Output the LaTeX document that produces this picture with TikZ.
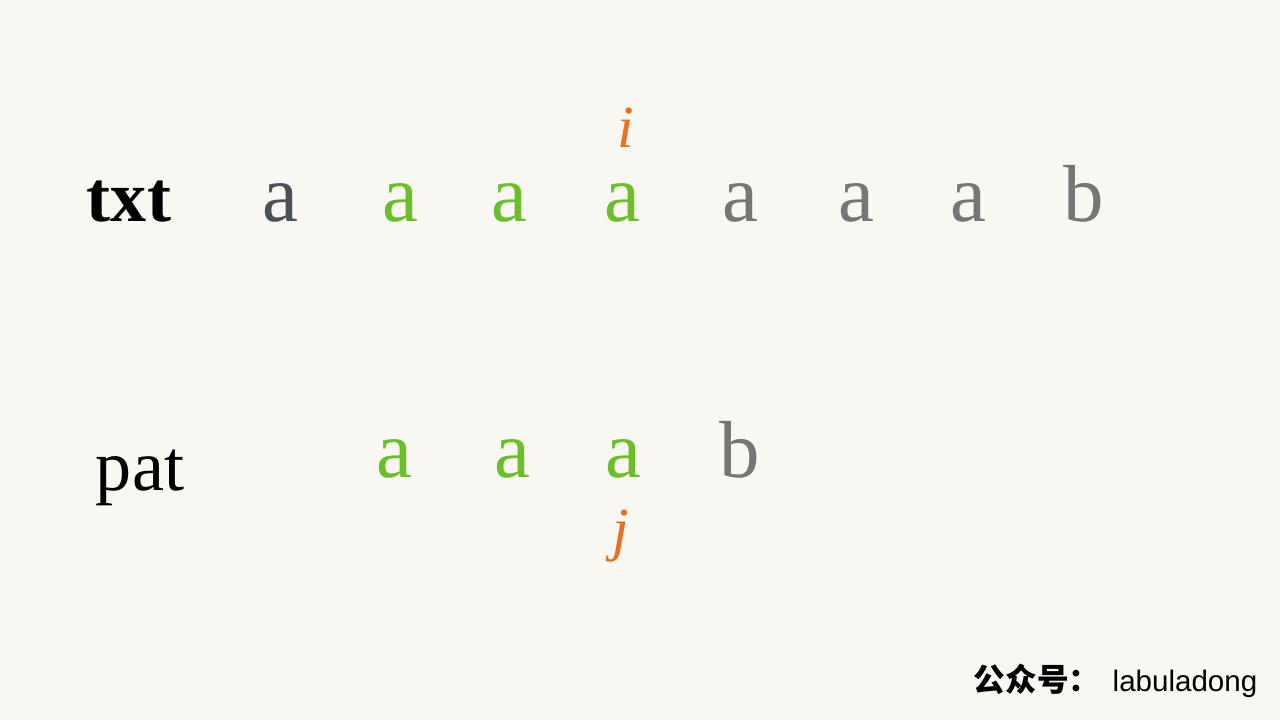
\documentclass[tikz,border=0pt]{standalone}
\usepackage{fontspec}
\setmainfont{Liberation Serif}
\newfontfamily\cjkfont{Noto Sans CJK SC}
\newfontfamily\wmfont{Liberation Sans}
\definecolor{bgc}{HTML}{F8F7F1}
\definecolor{dgray}{HTML}{4C5157}
\definecolor{lgray}{HTML}{767676}
\definecolor{grn}{HTML}{6CBE2A}
\definecolor{org}{HTML}{E8701E}
\tikzset{
  lbl/.style={anchor=base, font=\fontsize{20.5}{24}\selectfont, text=black},
  ch/.style={anchor=base, font=\fontsize{23}{26}\selectfont},
  ptr/.style={anchor=center, inner sep=0pt, text=org, font=\fontsize{17}{20}\selectfont\itshape},
}
\begin{document}
\begin{tikzpicture}[x=0.01cm, y=-0.01cm]
\fill[bgc] (0,0) rectangle (1280,720);
\useasboundingbox (0,0) rectangle (1280,720);
% txt row
\node[lbl, font=\fontsize{20.5}{24}\selectfont\bfseries] (txt) at (129,221) {txt};
\node[ch, text=dgray] (t0) at (280,221) {a};
\node[ch, text=grn] (t1) at (400,221) {a};
\node[ch, text=grn] (t2) at (509,221) {a};
\node[ch, text=grn] (t3) at (622,221) {a};
\node[ch, text=lgray] (t4) at (740,221) {a};
\node[ch, text=lgray] (t5) at (856,221) {a};
\node[ch, text=lgray] (t6) at (968,221) {a};
\node[ch, text=lgray] (t7) at (1084,221) {b};
\node[ptr] (i) at (626,128) {i};
% pat row
\node[lbl] (pat) at (140,490) {pat};
\node[ch, text=grn] (p0) at (394,477) {a};
\node[ch, text=grn] (p1) at (512,477) {a};
\node[ch, text=grn] (p2) at (623,477) {a};
\node[ch, text=lgray] (p3) at (740,477) {b};
\node[ptr] (j) at (621,536) {j};
% watermark
\node[anchor=base west, inner sep=0pt, font=\cjkfont\bfseries\fontsize{9}{10}\selectfont] (wm1) at (973,691) {公众号：};
\node[anchor=base west, inner sep=0pt, font=\wmfont\fontsize{8.4}{10}\selectfont] (wm2) at (1112,691) {labuladong};
\end{tikzpicture}
\end{document}
